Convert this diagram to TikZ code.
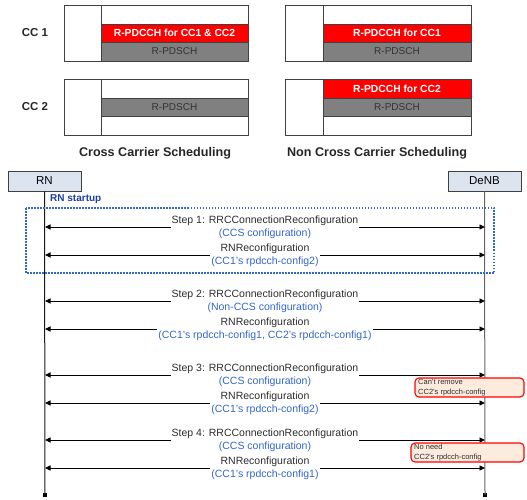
\documentclass[tikz,border=0pt]{standalone}
\usepackage{fontspec}
\setmainfont{Liberation Sans}
\usetikzlibrary{arrows.meta}

\definecolor{pdcchred}{RGB}{255,0,0}
\definecolor{pdschgray}{RGB}{128,128,128}
\definecolor{framegray}{RGB}{64,64,64}
\definecolor{headfill}{RGB}{220,228,240}
\definecolor{parblue}{RGB}{51,102,204}
\definecolor{startblue}{RGB}{30,60,160}
\definecolor{notefill}{RGB}{253,235,222}
\definecolor{msgtext}{RGB}{45,45,45}

\tikzset{
  frame/.style={draw=framegray, line width=0.9pt},
  redband/.style={frame, fill=pdcchred},
  grayband/.style={frame, fill=pdschgray},
  redtxt/.style={text=white, font=\bfseries\fontsize{10.3}{11}\selectfont},
  graytxt/.style={text=black!80, font=\fontsize{10}{11}\selectfont},
  cclabel/.style={font=\bfseries\fontsize{11.5}{12}\selectfont, text=black!85},
  caption/.style={font=\bfseries\fontsize{12.6}{14}\selectfont, text=black!85},
  head/.style={draw=framegray, fill=headfill, line width=0.8pt, minimum width=73pt,
    minimum height=20pt, inner sep=0pt, font=\fontsize{11.5}{12}\selectfont},
  lifeline/.style={line width=1pt},
  msg/.style={draw=black, line width=0.9pt,
    {Triangle[length=5.5pt,width=5pt]}-{Triangle[length=5.5pt,width=5pt]}},
  lbl/.style={fill=white, align=center, inner sep=1pt, text=msgtext,
    font=\fontsize{10.5}{13}\selectfont},
  note/.style={draw=pdcchred, fill=notefill, line width=1.1pt, rounded corners=4pt},
  notetxt/.style={align=left, inner sep=0pt, text=msgtext,
    font=\fontsize{7.5}{9.5}\selectfont},
  endmark/.style={fill=black, minimum size=4.5pt, inner sep=0pt, draw=none},
}

\begin{document}
\begin{tikzpicture}[x=1pt,y=-1pt]
\useasboundingbox (0,0) rectangle (527,500);

% ---- Cross carrier scheduling: CC1 ----
\draw[frame] (64,5) rectangle (248,61);
\draw[redband] (101,24) rectangle (248,42);
\draw[grayband] (101,42) rectangle (248,61);
\draw[frame] (101,5) -- (101,61);
\node[redtxt] (ccs1r) at (174.5,33) {R-PDCCH for CC1 \& CC2};
\node[graytxt] (ccs1g) at (174.5,51.5) {R-PDSCH};

% ---- Cross carrier scheduling: CC2 ----
\draw[frame] (64,79) rectangle (248,135);
\draw[grayband] (101,98) rectangle (248,116);
\draw[frame] (101,79) -- (101,135);
\node[graytxt] (ccs2g) at (174.5,107) {R-PDSCH};

% ---- Non cross carrier scheduling: CC1 ----
\draw[frame] (285,5) rectangle (471,61);
\draw[redband] (323,24) rectangle (471,42);
\draw[grayband] (323,42) rectangle (471,61);
\draw[frame] (323,5) -- (323,61);
\node[redtxt] (ncs1r) at (397,33) {R-PDCCH for CC1};
\node[graytxt] (ncs1g) at (397,51.5) {R-PDSCH};

% ---- Non cross carrier scheduling: CC2 ----
\draw[frame] (285,79) rectangle (471,135);
\draw[redband] (323,79) rectangle (471,98);
\draw[grayband] (323,98) rectangle (471,116);
\draw[frame] (323,79) -- (323,135);
\node[redtxt] (ncs2r) at (397,88.5) {R-PDCCH for CC2};
\node[graytxt] (ncs2g) at (397,107) {R-PDSCH};

\node[cclabel] (cc1) at (35,33) {CC 1};
\node[cclabel] (cc2) at (35,107) {CC 2};
\node[caption] (capa) at (155,153) {Cross Carrier Scheduling};
\node[caption] (capb) at (377,153) {Non Cross Carrier Scheduling};

% ---- Sequence participants ----
\node[head] (rn) at (44.5,181) {RN};
\node[head] (denb) at (484.5,181) {DeNB};
\node[endmark] (rnend) at (45,495) {};
\node[endmark] (denbend) at (485,495) {};
\draw[lifeline, draw=black!90] (rn.south) -- (rnend.center);
\draw[lifeline, draw=black!60] (denb.south) -- (denbend.center);

% ---- RN startup phase ----
\node[anchor=west, text=startblue, font=\bfseries\fontsize{10}{11}\selectfont, inner sep=0pt]
  (startup) at (50,199) {RN startup};
\draw[draw=parblue, line width=1.4pt, dash pattern=on 1.5pt off 1.5pt]
  (26,208) rectangle (494,273);

% ---- Messages ----
\foreach \n/\y in {1/227, 2/255, 3/301, 4/329, 5/375, 6/403, 7/440, 8/468} {
  \coordinate (l\n) at (45,\y);
  \coordinate (r\n) at (485,\y);
}

\draw[msg] (l1) -- (r1) node[lbl, midway] {Step 1: RRCConnectionReconfiguration\\\textcolor{parblue}{(CCS configuration)}};
\draw[msg] (l2) -- (r2) node[lbl, midway] {RNReconfiguration\\\textcolor{parblue}{(CC1's rpdcch-config2)}};
\draw[msg] (l3) -- (r3) node[lbl, midway] {Step 2: RRCConnectionReconfiguration\\\textcolor{parblue}{(Non-CCS configuration)}};
\draw[msg] (l4) -- (r4) node[lbl, midway] {RNReconfiguration\\\textcolor{parblue}{(CC1's rpdcch-config1, CC2's rpdcch-config1)}};
\draw[msg] (l5) -- (r5) node[lbl, midway] {Step 3: RRCConnectionReconfiguration\\\textcolor{parblue}{(CCS configuration)}};
\draw[msg] (l6) -- (r6) node[lbl, midway] {RNReconfiguration\\\textcolor{parblue}{(CC1's rpdcch-config2)}};
\draw[msg] (l7) -- (r7) node[lbl, midway] {Step 4: RRCConnectionReconfiguration\\\textcolor{parblue}{(CCS configuration)}};
\draw[msg] (l8) -- (r8) node[lbl, midway] {RNReconfiguration\\\textcolor{parblue}{(CC1's rpdcch-config1)}};

% ---- Notes ----
\draw[note] (415,378) rectangle (524,397);
\node[notetxt, anchor=west] (note1) at (418,387.5) {Can't remove\\CC2's rpdcch-config};
\draw[note] (411,443) rectangle (524,462);
\node[notetxt, anchor=west] (note2) at (414,452.5) {No need\\CC2's rpdcch-config};

\end{tikzpicture}
\end{document}
